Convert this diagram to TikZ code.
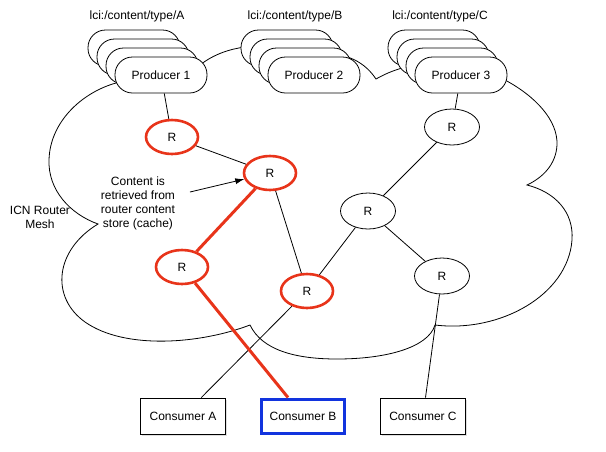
\documentclass[tikz,border=0pt]{standalone}
\usepackage{fontspec}
\setmainfont{Liberation Sans}
\usepackage{xcolor}
\usepackage{tikz}
\usetikzlibrary{shapes.geometric, arrows.meta, shadows}
\definecolor{cacheRed}{RGB}{232, 52, 26}
\definecolor{pathBlue}{RGB}{18, 52, 222}

\begin{document}
\begin{tikzpicture}[x=1pt, y=-1pt, every node/.style={font=\fontsize{12}{14}\selectfont},
    producer/.style={draw, fill=white, line width=0.8pt, rounded corners=17.5pt, minimum width=92pt, minimum height=36pt, inner sep=0pt},
    router/.style={draw, ellipse, fill=white, line width=0.8pt, minimum width=55pt, minimum height=36pt, inner sep=0pt},
    cached/.style={router, draw=cacheRed, line width=2.6pt, minimum width=52pt, minimum height=34pt},
    consumer/.style={draw, fill=white, line width=0.8pt, minimum width=85pt, minimum height=36pt,
      drop shadow={shadow xshift=1.5pt, shadow yshift=-1.5pt, opacity=0.25}},
    link/.style={line width=0.8pt},
    hotlink/.style={draw=cacheRed, line width=3pt}]
    \useasboundingbox (0,0) rectangle (606,451);
    % Router mesh cloud
    \draw[link] (200,65) .. controls (214,54) and (230,49) .. (245,47)
      -- (320,55) .. controls (340,52) and (362,58) .. (376,79)
      .. controls (385,74) and (392,71) .. (402,68)
      -- (505,80) .. controls (535,96) and (558,120) .. (557,145)
      .. controls (556,165) and (542,178) .. (527,185)
      .. controls (555,192) and (574,212) .. (572,240)
      .. controls (568,295) and (500,333) .. (435,325)
      .. controls (428,348) and (385,359) .. (337,359)
      .. controls (295,359) and (262,350) .. (250,325)
      .. controls (200,344) and (125,350) .. (85,322)
      .. controls (50,297) and (55,250) .. (98,224)
      .. controls (70,214) and (48,190) .. (49,160)
      .. controls (50,120) and (85,90) .. (120,82) -- cycle;
    \node[align=center] (mesh) at (40,217) {ICN Router\\Mesh};
    % Producers
    \foreach \n/\x/\lbl/\lx in {1/161/A/137, 2/314/B/295, 3/461/C/440} {
      \foreach \d in {3,2,1}
        \node[producer] (p\n b\d) at (\x-9*\d, 75-9*\d) {};
      \node[producer] (p\n) at (\x, 75) {Producer \n};
      \node (t\n) at (\lx, 16) {lci:/content/type/\lbl};
    }
    % Routers
    \node[cached] (r1) at (172,137) {R};
    \node[cached] (r2) at (270,173) {R};
    \node[cached] (r3) at (182,267) {R};
    \node[cached] (r4) at (307,291) {R};
    \node[router] (r5) at (452,127) {R};
    \node[router] (r6) at (368,211) {R};
    \node[router] (r7) at (442,276) {R};
    % Consumers
    \node[consumer] (ca) at (183,416) {Consumer A};
    \node[consumer, draw=pathBlue, line width=3pt, minimum width=83pt, minimum height=34pt] (cb) at (303,416) {Consumer B};
    \node[consumer] (cc) at (423,416) {Consumer C};
    % Links
    \draw[link] (p1) -- (r1);
    \draw[link] (r1) -- (r2);
    \draw[link] (r2) -- (r4);
    \draw[link] (r4) -- (ca);
    \draw[link] (p3) -- (r5);
    \draw[link] (r5) -- (r6);
    \draw[link] (r6) -- (r4);
    \draw[link] (r6) -- (r7);
    \draw[link] (r7) -- (cc);
    % Cache hit path
    \draw[hotlink] (r2) -- (r3);
    \draw[hotlink] (r3) -- (cb);
    % Note
    \node[align=center] (note) at (138,203) {Content is\\retrieved from\\router content\\store (cache)};
    \coordinate (from) at (190,192);
    \draw[link, -{Latex[length=9pt, width=6pt]}] (from) -- (r2);
  \end{tikzpicture}
\end{document}
